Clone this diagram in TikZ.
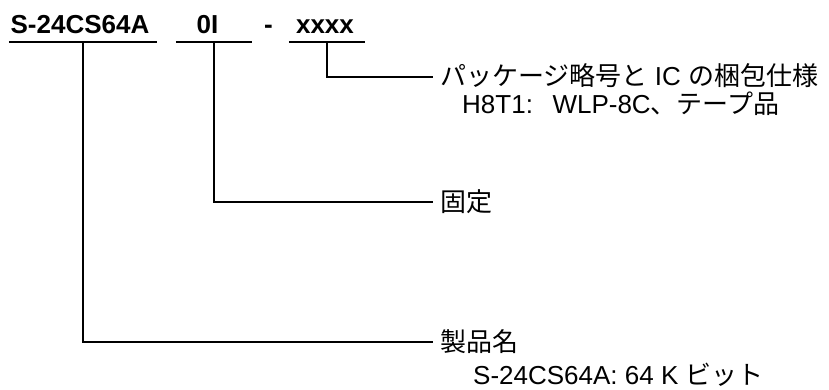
\documentclass[tikz,border=0pt]{standalone}
\usepackage{fontspec}
\setmainfont{Liberation Sans}
\newfontfamily\jp{Noto Sans CJK JP}
\begin{document}
\begin{tikzpicture}[x=1pt,y=-1pt,
  title/.style={font=\bfseries\fontsize{26}{30}\selectfont, inner sep=0pt, anchor=base},
  uline/.style={inner sep=0pt, minimum height=0pt, minimum width=#1},
  rule/.style={line width=1.6pt},
  lab/.style={font=\fontsize{26}{30}\selectfont, inner xsep=7pt, inner ysep=0pt, anchor=west},
  labb/.style={font=\fontsize{26}{30}\selectfont, inner xsep=7pt, inner ysep=0pt, anchor=base west},
  sub/.style={font=\fontsize{26}{30}\selectfont, inner sep=0pt, anchor=base west}]
\useasboundingbox (0,0) rectangle (829,389);
% title
\node[title] (t1) at (80,33) {S-24CS64A};
\node[title] (t2) at (207.5,33) {0I};
\node[title] (t3) at (268.5,33) {-};
\node[title] (t4) at (325,33) {xxxx};
\node[uline=148pt] (u1) at (83,42) {};
\node[uline=76pt] (u2) at (214,42) {};
\node[uline=76pt] (u3) at (327,42) {};
\draw[rule] (u1.west) -- (u1.east);
\draw[rule] (u2.west) -- (u2.east);
\draw[rule] (u3.west) -- (u3.east);
% labels
\node[labb] (p1) at (433,85) {{\jp パッケージ略号と} IC {\jp の梱包仕様}};
\coordinate (c1) at (433,77);
\node[sub] (s1) at (462,113) {H8T1:\hspace{0.75em}WLP-8C{\jp 、テープ品}};
\node[lab] (p2) at (433,202) {\jp 固定};
\node[lab] (p3) at (433,342) {\jp 製品名};
\node[sub] (s3) at (473,384) {S-24CS64A: 64 K {\jp ビット}};
% connectors
\draw[rule] (u3.center) |- (c1);
\draw[rule] (u2.center) |- (p2.west);
\draw[rule] (u1.center) |- (p3.west);
\end{tikzpicture}
\end{document}
